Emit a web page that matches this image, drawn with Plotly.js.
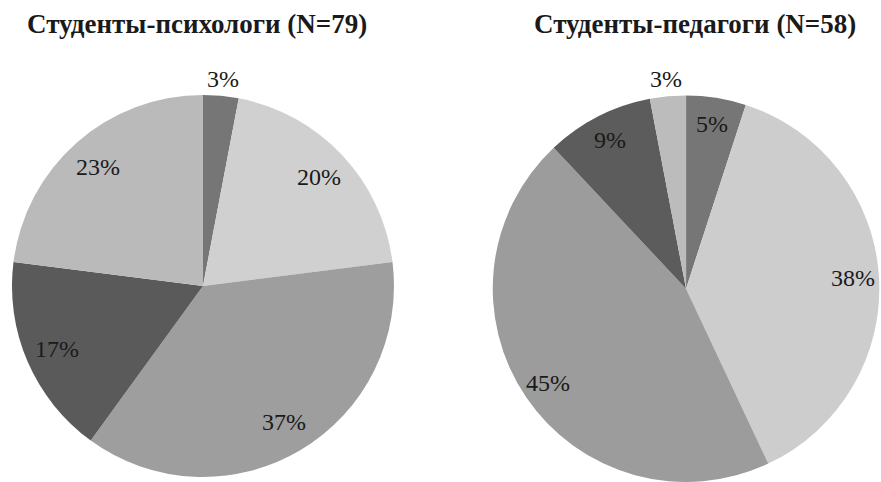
<!DOCTYPE html>
<html>
<head>
<meta charset="utf-8">
<script src="https://cdn.plot.ly/plotly-3.0.1.min.js"></script>
<style>
  html, body { margin: 0; padding: 0; background: #ffffff; }
  #chart { width: 881px; height: 482px; }
</style>
</head>
<body>
<div id="chart"></div>
<script>
// Shares of answers (%) for the two student groups, clockwise from 12 o'clock
const categories = ['A', 'B', 'C', 'D', 'E'];
const psychValues = [3, 20, 37, 17, 23];
const pedValues = [5, 38, 45, 9, 3];

const psychTitle = 'Студенты-психологи (N=79)';
const pedTitle = 'Студенты-педагоги (N=58)';

const psychColors = ['#767676', '#d0d0d0', '#9e9e9e', '#5a5a5a', '#bababa'];
const pedColors = ['#767676', '#cdcdcd', '#9c9c9c', '#5c5c5c', '#bcbcbc'];

const W = 881, H = 482;
const serif = 'Liberation Serif';
const labelSize = 24;

const psychDomain = { x: [0.0136, 0.4472], y: [0.0104, 0.803] };
const pedDomain = { x: [0.5585, 0.9989], y: [0.0, 0.802] };

function pieTrace(values, colors, domain) {
  return {
    type: 'pie',
    labels: categories,
    values: values,
    sort: false,
    direction: 'clockwise',
    rotation: 0,
    domain: domain,
    marker: { colors: colors, line: { width: 0 } },
    textinfo: 'none',
    hoverinfo: 'label+value',
    showlegend: false
  };
}

// Percent labels placed at each slice's mid-angle; small slices sit just outside the rim
function sliceLabels(values, domain, insideK, outsideK, smallLimit) {
  const total = values.reduce((a, b) => a + b, 0);
  const cx = (domain.x[0] + domain.x[1]) / 2 * W;
  const cy = (domain.y[0] + domain.y[1]) / 2 * H;
  const r = Math.min((domain.x[1] - domain.x[0]) * W, (domain.y[1] - domain.y[0]) * H) / 2;
  const out = [];
  let acc = 0;
  values.forEach((v) => {
    const mid = (acc + v / 2) / total * 2 * Math.PI;
    acc += v;
    const k = v <= smallLimit ? outsideK : insideK;
    out.push({
      text: v + '%',
      x: (cx + k * r * Math.sin(mid)) / W,
      y: (cy + k * r * Math.cos(mid)) / H,
      xref: 'paper', yref: 'paper', xanchor: 'center', yanchor: 'middle',
      showarrow: false,
      font: { family: serif, size: labelSize, color: '#1a1a1a' }
    });
  });
  return out;
}

function titleAnn(text, xPx) {
  return {
    text: '<b>' + text + '</b>', x: xPx / W, y: 1 - 24 / H, xref: 'paper', yref: 'paper',
    xanchor: 'center', yanchor: 'middle', showarrow: false,
    font: { family: serif, size: 27, color: '#1a1a1a' }
  };
}

const data = [
  pieTrace(psychValues, psychColors, psychDomain),
  pieTrace(pedValues, pedColors, pedDomain)
];

const layout = {
  width: W,
  height: H,
  margin: { l: 0, r: 0, t: 0, b: 0 },
  paper_bgcolor: '#ffffff',
  plot_bgcolor: '#ffffff',
  font: { family: serif, color: '#1a1a1a' },
  annotations: [
    titleAnn(psychTitle, 197),
    titleAnn(pedTitle, 695)
  ].concat(sliceLabels(psychValues, psychDomain, 0.83, 1.09, 3))
   .concat(sliceLabels(pedValues, pedDomain, 0.865, 1.09, 3))
};

Plotly.newPlot('chart', data, layout, { staticPlot: true, displayModeBar: false });
</script>
</body>
</html>
